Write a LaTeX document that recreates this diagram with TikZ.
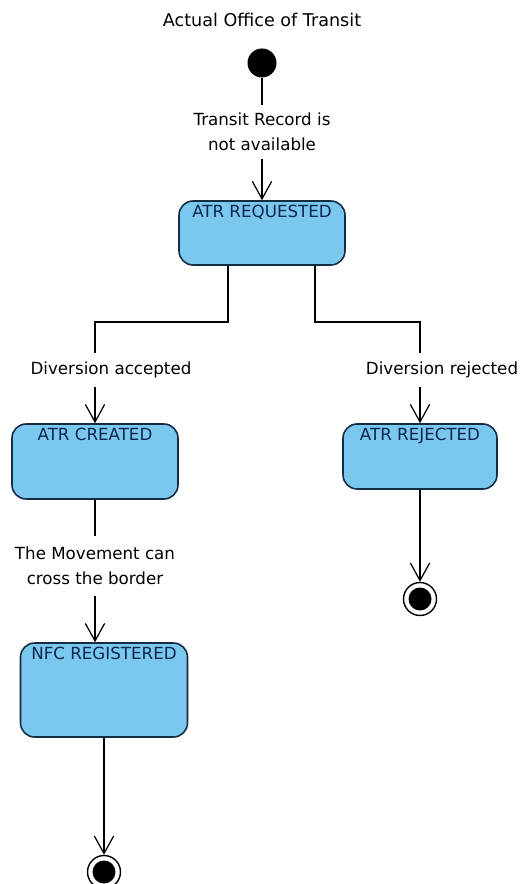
\documentclass[tikz,border=0pt]{standalone}
\usepackage{fontspec}
\setmainfont{DejaVu Sans}
\usetikzlibrary{arrows.meta}
\definecolor{statefill}{RGB}{122,200,238}
\definecolor{stateline}{RGB}{22,44,68}
\definecolor{statetext}{RGB}{14,38,78}
\tikzset{
	state/.style={draw=stateline, fill=statefill, line width=0.9pt, rounded corners=8pt, inner sep=0pt},
	statename/.style={anchor=north, inner sep=2.5pt, text=statetext, font=\fontsize{9.5}{14}\selectfont},
	guard/.style={fill=white, align=center, inner xsep=2pt, inner ysep=4.5pt, font=\fontsize{9.5}{14}\selectfont},
	initial/.style={circle, fill=black, minimum size=0.58cm, inner sep=0pt},
	final/.style={circle, draw, line width=0.8pt, minimum size=0.66cm, inner sep=0pt,
		path picture={\fill (path picture bounding box.center) circle (0.23cm);}},
	flow/.style={-{Straight Barb[length=10pt, width=11pt]}}
}

\begin{document}
\begin{tikzpicture}[x=0.02cm, y=-0.02cm, line width=0.7pt]
			%%%%% START %%%%%
			\useasboundingbox (0, 0) rectangle (523, 884);
			
			\node[font=\fontsize{10}{14}\selectfont] (title) at (262, 20) {Actual Office of Transit};
			\node[initial] (start) at (262, 63) {};
			
			\node[state, minimum width=3.32cm, minimum height=1.28cm, label={[statename]north:ATR REQUESTED}] (req) at (262, 233) {};
			\node[state, minimum width=3.32cm, minimum height=1.5cm, label={[statename]north:ATR CREATED}] (created) at (95, 461.5) {};
			\node[state, minimum width=3.08cm, minimum height=1.3cm, label={[statename]north:ATR REJECTED}] (rejected) at (420, 456.5) {};
			\node[state, minimum width=3.34cm, minimum height=1.88cm, label={[statename]north:NFC REGISTERED}] (nfc) at (104, 690) {};
			
			\node[final] (endrej) at (420, 599) {};
			\node[final] (endnfc) at (104, 872) {};
			
			% guards
			\node[guard] (notavail) at (262, 132) {Transit Record is\\not available};
			\node[guard] (accepted) at (111, 370) {Diversion accepted};
			\node[guard] (rejguard) at (442, 370) {Diversion rejected};
			\node[guard, inner ysep=6pt] (border) at (95, 566) {The Movement can\\cross the border};
			
			\coordinate (splitL) at (228, 322);
			\coordinate (splitR) at (315, 322);
			
			% transitions
			\draw (start) -- (notavail);
			\draw[flow] (notavail) -- (req);
			\draw (req.south -| splitL) -- (splitL) -| (accepted.north -| created);
			\draw[flow] (accepted.south -| created) -- (created);
			\draw (req.south -| splitR) -- (splitR) -| (rejguard.north -| rejected);
			\draw[flow] (rejguard.south -| rejected) -- (rejected);
			\draw (created) -- (border);
			\draw[flow] (border) -- (border |- nfc.north);
			\draw[flow] (nfc) -- (endnfc);
			\draw[flow] (rejected) -- (endrej);
			
			%%%%% END %%%%%
		\end{tikzpicture}
\end{document}
